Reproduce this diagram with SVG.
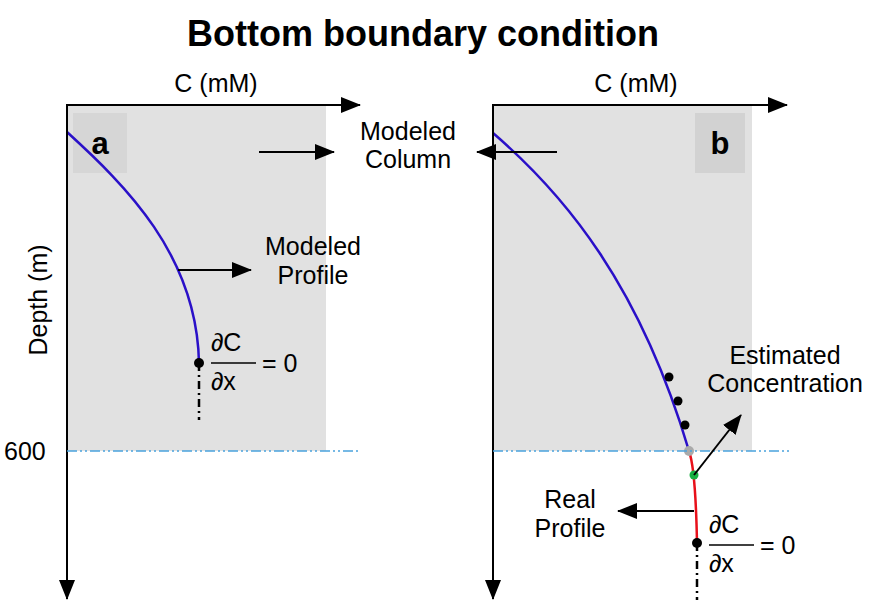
<svg xmlns="http://www.w3.org/2000/svg" width="885" height="614" viewBox="0 0 885 614">
<defs>
<marker id="big" markerWidth="20" markerHeight="16" refX="19" refY="8" orient="auto" markerUnits="userSpaceOnUse"><path d="M0,0 L20,8 L0,16 Z" fill="#000"/></marker>
</defs>
<style>
text{font-family:"Liberation Sans",Arial,sans-serif;fill:#000}
.l{font-size:25px}
.ax{stroke:#000;stroke-width:2;fill:none}
.bl{stroke:#2a10c8;stroke-width:2.5;fill:none}
.dd{stroke:#4aa3dd;stroke-width:1.5;stroke-dasharray:10,3,2,3,2,3}
.vd{stroke:#000;stroke-width:2.5;stroke-dasharray:8,4,2,4}
.ar{stroke:#000;stroke-width:2;fill:none}
</style>
<rect width="885" height="614" fill="#fff"/>
<text x="423" y="46" text-anchor="middle" font-size="36" font-weight="bold">Bottom boundary condition</text>
<g id="panelA">
<rect x="67" y="105" width="259" height="346" fill="#e1e1e1"/>
<rect x="73" y="113" width="54" height="60" fill="#d6d6d6"/>
<text x="100" y="154" text-anchor="middle" font-size="31" font-weight="bold">a</text>
<text x="216" y="92" text-anchor="middle" class="l">C (mM)</text>
<text transform="translate(47,300) rotate(-90)" text-anchor="middle" class="l">Depth (m)</text>
<text x="4" y="460" class="l">600</text>
<path d="M67,132 C125,185 197,255 199,363" class="bl"/>
<line x1="199" y1="363" x2="199" y2="420" class="vd"/>
<circle cx="199" cy="363" r="5"/>
<text x="211" y="351" class="l">∂C</text>
<line x1="211" y1="363" x2="256" y2="363" stroke="#000" stroke-width="1.5"/>
<text x="211" y="390" class="l">∂x</text>
<text x="262" y="372" class="l">= 0</text>
<text x="313" y="255" text-anchor="middle" class="l">Modeled</text>
<text x="313" y="284" text-anchor="middle" class="l">Profile</text>
</g>
<g id="panelB">
<rect x="493" y="105" width="259" height="346" fill="#e1e1e1"/>
<rect x="695" y="113" width="50" height="60" fill="#d2d2d2"/>
<text x="720" y="154" text-anchor="middle" font-size="31" font-weight="bold">b</text>
<text x="636" y="92" text-anchor="middle" class="l">C (mM)</text>
<path d="M493,133 C565,195 640,285 689,451" class="bl"/>
<path d="M689,451 C693,462 696,490 697,543" stroke="#e8101a" stroke-width="2.5" fill="none"/>
<line x1="697" y1="543" x2="697" y2="600" class="vd"/>
<circle cx="669" cy="377" r="4.5"/>
<circle cx="678" cy="401" r="4.5"/>
<circle cx="685" cy="425" r="4.5"/>
<circle cx="689" cy="451" r="5" fill="#aaa"/>
<circle cx="694" cy="475" r="4.5" fill="#18b040"/>
<circle cx="697" cy="543" r="5"/>
<text x="709" y="533" class="l">∂C</text>
<line x1="709" y1="545" x2="754" y2="545" stroke="#000" stroke-width="1.5"/>
<text x="709" y="572" class="l">∂x</text>
<text x="760" y="554" class="l">= 0</text>
<text x="785" y="364" text-anchor="middle" class="l">Estimated</text>
<text x="785" y="392" text-anchor="middle" class="l">Concentration</text>
<text x="570" y="508" text-anchor="middle" class="l">Real</text>
<text x="570" y="537" text-anchor="middle" class="l">Profile</text>
</g>
<g id="columnLabel">
<text x="408" y="140" text-anchor="middle" class="l">Modeled</text>
<text x="408" y="168" text-anchor="middle" class="l">Column</text>
</g>
<g id="connectors">
<line x1="67" y1="105" x2="360" y2="105" class="ax" marker-end="url(#big)"/>
<line x1="67" y1="104" x2="67" y2="599" class="ax" marker-end="url(#big)"/>
<line x1="493" y1="105" x2="787" y2="105" class="ax" marker-end="url(#big)"/>
<line x1="493" y1="104" x2="493" y2="599" class="ax" marker-end="url(#big)"/>
<line x1="67" y1="451" x2="360" y2="451" class="dd"/>
<line x1="493" y1="451" x2="790" y2="451" class="dd"/>
<line x1="178" y1="270" x2="251" y2="270" class="ar" marker-end="url(#big)"/>
<line x1="259" y1="152" x2="334" y2="152" class="ar" marker-end="url(#big)"/>
<line x1="557" y1="152" x2="477" y2="152" class="ar" marker-end="url(#big)"/>
<line x1="694" y1="475" x2="741" y2="415" class="ar" marker-end="url(#big)"/>
<line x1="694" y1="511" x2="618" y2="511" class="ar" marker-end="url(#big)"/>
</g>
</svg>
